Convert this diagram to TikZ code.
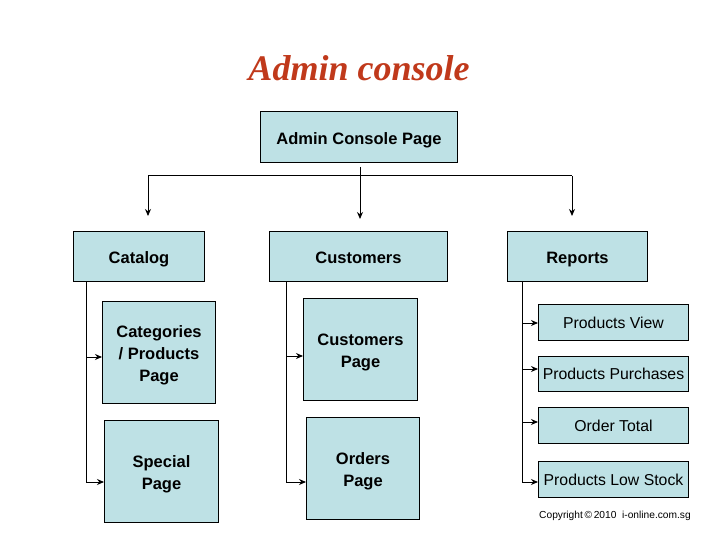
\documentclass[tikz,border=0pt]{standalone}
\usepackage{fontspec}
\setmainfont{Liberation Sans}
\newfontfamily\titlefont{Liberation Serif}
\usetikzlibrary{arrows.meta}
\definecolor{boxfill}{RGB}{190,225,229}
\definecolor{titlered}{RGB}{192,57,27}
\newcommand\lowr[1]{\raisebox{-3pt}[\height][\depth]{\begin{tabular}{@{}c@{}}#1\end{tabular}}}
\tikzset{
  box/.style={draw=black, line width=1pt, fill=boxfill, anchor=north west, inner sep=0pt, align=center, font=\fontsize{16.5}{22}\selectfont\bfseries},
  rbox/.style={box, font=\fontsize{15.8}{19}\selectfont},
  conn/.style={draw=black, line width=1pt},
  arr/.style={conn, -{Stealth[length=7pt,width=6pt]}}
}
\begin{document}
\begin{tikzpicture}[x=1pt,y=-1pt]
\useasboundingbox (0,0) rectangle (720,540);
\node[text=titlered, font=\titlefont\fontsize{36}{40}\selectfont\bfseries\itshape] (title) at (359,68) {Admin console};
\node[box, minimum width=197pt, minimum height=51pt] (acp) at (260,111) {\lowr{Admin Console Page}};
\node[box, minimum width=131pt, minimum height=50pt] (cat) at (73,231) {\lowr{Catalog}};
\node[box, minimum width=178pt, minimum height=50pt] (cus) at (269,231) {\lowr{Customers}};
\node[box, minimum width=140pt, minimum height=50pt] (rep) at (507,231) {\lowr{Reports}};
\node[box, minimum width=113pt, minimum height=102pt] (catp) at (102,301) {\lowr{Categories\\/ Products\\Page}};
\node[box, minimum width=114pt, minimum height=102pt] (spec) at (104,420) {\lowr{Special\\Page}};
\node[box, minimum width=114pt, minimum height=102pt] (cusp) at (303,298) {\lowr{Customers\\Page}};
\node[box, minimum width=113pt, minimum height=102pt] (ord) at (306,417) {\lowr{Orders\\Page}};
\node[rbox, minimum width=150pt, minimum height=36pt] (pv) at (538,304) {Products View};
\node[rbox, minimum width=150pt, minimum height=35pt] (pp) at (538,356) {Products Purchases};
\node[rbox, minimum width=150pt, minimum height=36pt] (ot) at (538,407) {Order Total};
\node[rbox, minimum width=150pt, minimum height=36pt] (pls) at (538,461) {Products Low Stock};
\node[font=\fontsize{10.2}{12}\selectfont] (copy) at (615,516) {Copyright\,©\,2010\ \ i-online.com.sg};
% top tree
\coordinate (jt) at (360,167);
\coordinate (jm) at (360,176);
\coordinate (jl) at (148,176);
\coordinate (jr) at (572,176);
\coordinate (el) at (148,216);
\coordinate (em) at (360,219);
\coordinate (er) at (572,216);
\draw[conn] (jt) -- (jm);
\draw[conn] (jl) -- (jr);
\draw[arr] (jl) -- (el);
\draw[arr] (jm) -- (em);
\draw[arr] (jr) -- (er);
% catalog branch
\coordinate (c0) at (86,281);
\coordinate (c1) at (86,357);
\coordinate (c2) at (86,482);
\draw[conn] (c0) -- (c2);
\draw[arr] (c1) -- (catp.west |- c1);
\draw[arr] (c2) -- (spec.west |- c2);
% customers branch
\coordinate (u0) at (286,281);
\coordinate (u1) at (286,356);
\coordinate (u2) at (286,482);
\draw[conn] (u0) -- (u2);
\draw[arr] (u1) -- (cusp.west |- u1);
\draw[arr] (u2) -- (ord.west |- u2);
% reports branch
\coordinate (r0) at (522,281);
\coordinate (r1) at (522,323);
\coordinate (r2) at (522,369);
\coordinate (r3) at (522,422);
\coordinate (r4) at (522,482);
\draw[conn] (r0) -- (r4);
\draw[arr] (r1) -- (pv.west |- r1);
\draw[arr] (r2) -- (pp.west |- r2);
\draw[arr] (r3) -- (ot.west |- r3);
\draw[arr] (r4) -- (pls.west |- r4);
\end{tikzpicture}
\end{document}
